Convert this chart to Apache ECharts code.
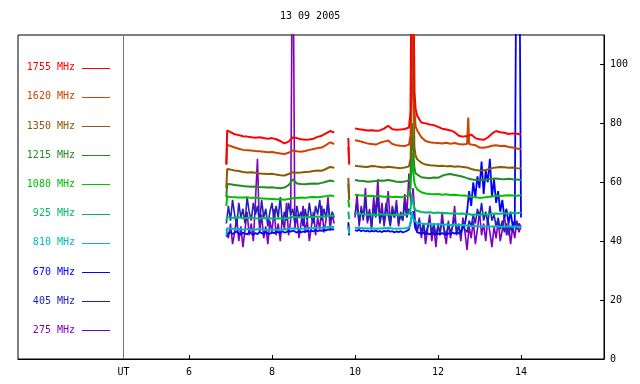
<!DOCTYPE html>
<html><head><meta charset="utf-8">
<script src="https://cdn.jsdelivr.net/npm/echarts@6/dist/echarts.min.js"></script>
<style>html,body{margin:0;padding:0;background:#fff}#c{width:640px;height:384px}</style>
</head><body><div id="c"></div>
<script>
const chartTitle = '13 09 2005';
const xTickValues = [6, 8, 10, 12, 14];
const yTickValues = [0, 20, 40, 60, 80, 100];
const utLineAt = 4.42;
const freqLabels = ['1755 MHz','1620 MHz','1350 MHz','1215 MHz','1080 MHz','925 MHz','810 MHz','670 MHz','405 MHz','275 MHz'];

// coarse time grids (hours UT)
const timesA = [6.90,6.92,7.0,7.1,7.2,7.3,7.4,7.5,7.6,7.7,7.8,7.9,8.0,8.1,8.2,8.3,8.4,8.5,8.6,8.7,8.8,8.9,9.0,9.1,9.2,9.3,9.4,9.5];
const timesMini = [9.84, 9.86];
const timesB = [10.0,10.1,10.2,10.3,10.4,10.5,10.6,10.7,10.8,10.9,11.0,11.1,11.2,11.3,
  11.34,11.37,11.40,11.43,11.46,
  11.5,11.6,11.7,11.8,11.9,12.0,12.1,12.2,12.3,12.4,12.5,12.6,12.7,
  12.73,12.75,
  12.8,12.9,13.0,13.1,13.2,13.3,13.4,13.5,13.6,13.7,13.8,13.9,14.0];
// fine time grids for the noisy channels
const timesFineA = [6.90,6.95,7.00,7.05,7.10,7.15,7.20,7.25,7.30,7.35,
  7.40,7.45,7.50,7.55,7.60,7.65,7.70,7.75,7.80,7.85,
  7.90,7.95,8.00,8.05,8.10,8.15,8.20,8.25,8.30,8.35,
  8.40,8.45,8.50,8.55,8.60,8.65,8.70,8.75,8.80,8.85,
  8.90,8.95,9.00,9.05,9.10,9.15,9.20,9.25,9.30,9.35,
  9.40,9.45,9.50];
const timesFineB = [10.00,10.05,10.10,10.15,10.20,10.25,10.30,10.35,10.40,10.45,
  10.50,10.55,10.60,10.65,10.70,10.75,10.80,10.85,10.90,10.95,
  11.00,11.05,11.10,11.15,11.20,11.25,11.30,11.35,11.40,11.45,
  11.50,11.55,11.60,11.65,11.70,11.75,11.80,11.85,11.90,11.95,
  12.00,12.05,12.10,12.15,12.20,12.25,12.30,12.35,12.40,12.45,
  12.50,12.55,12.60,12.65,12.70,12.75,12.80,12.85,12.90,12.95,
  13.00,13.05,13.10,13.15,13.20,13.25,13.30,13.35,13.40,13.45,
  13.50,13.55,13.60,13.65,13.70,13.75,13.80,13.85,13.90,13.95,
  14.00];

// 1755 MHz
const f1755A = [66,77.6,77.0,76.3,76.0,75.6,75.5,75.3,75.1,75.3,75.0,74.8,75.0,74.6,74.0,73.2,73.8,75.2,75.0,74.6,74.4,74.5,74.8,75.4,75.8,76.6,77.4,76.9];
const f1755M = [75, 66];
const f1755B = [78.3,78.0,77.8,77.6,77.7,77.5,77.6,78.2,79.2,78.0,77.8,77.9,78.1,78.6,
  84,160,150,91,85,
  82.5,80.3,80.0,79.6,79.4,78.8,78.2,77.9,77.6,77.0,75.8,75.5,75.7,
  75.8,75.9,
  76.2,75.0,74.6,74.4,75.2,76.5,77.4,77.0,76.8,76.4,76.6,76.5,76.2];
// 1620 MHz
const f1620A = [66,72.8,72.3,71.8,71.4,71.0,70.9,70.8,70.6,70.5,70.4,70.2,70.3,70.0,69.8,69.6,70.0,70.8,70.5,70.4,70.6,71.0,71.3,71.6,71.8,72.6,73.6,73.0];
const f1620M = [72, 66.5];
const f1620B = [74.3,74.0,73.6,73.2,73.0,72.8,73.4,73.8,74.2,73.0,72.6,72.4,72.3,72.8,
  76,150,160,85,79,
  77.6,75.3,74.0,73.6,73.4,73.3,73.2,73.4,73.1,73.3,73.0,72.8,73.0,
  82,73.0,
  72.8,72.6,71.8,71.7,72.0,72.4,72.6,72.3,72.4,72.0,71.8,71.5,71.2];
// 1350 MHz
const f1350A = [58,64.5,64.3,64.0,63.8,63.5,63.3,63.4,63.2,63.0,62.9,62.8,62.9,62.6,62.4,62.3,62.8,63.4,63.2,63.3,63.5,63.6,63.8,64.0,63.9,64.5,65.2,64.9];
const f1350M = [61.5, 54];
const f1350B = [65.6,65.4,65.3,65.2,65.5,65.4,65.2,65.0,65.3,65.1,64.9,64.8,65.0,65.4,
  68,90,115,72,69,
  67.8,66.6,66.0,65.8,65.7,65.5,65.6,65.4,65.5,65.3,65.4,65.2,65.0,
  64.9,64.8,
  64.5,64.2,64.0,64.1,64.3,64.8,65.0,65.2,65.1,64.9,65.0,64.8,64.7];
// 1215 MHz
const f1215A = [55,59.4,59.3,59.1,58.9,58.7,58.6,58.5,58.6,58.4,58.3,58.2,58.3,58.1,58.0,58.2,59.0,61.0,59.6,59.4,59.3,59.5,59.6,59.5,59.8,60.2,60.6,60.3];
const f1215M = [59.5, 54.5];
const f1215B = [60.8,60.5,60.4,60.2,60.3,60.4,60.6,60.5,60.8,60.5,60.2,60.1,60.3,60.6,
  63,80,72,65,63,
  62.4,61.7,61.5,61.4,61.6,61.5,62.2,62.6,62.8,62.5,62.2,61.9,61.4,
  61.3,61.2,
  61.0,60.8,60.6,60.8,61.0,61.2,61.3,61.1,61.0,61.2,61.0,60.9,60.8];
// 1080 MHz
const f1080A = [52,55.2,55.0,54.9,54.8,54.8,54.9,54.7,54.8,54.6,54.5,54.4,54.3,54.2,54.2,54.1,54.3,54.6,54.7,54.8,54.7,54.9,55.0,54.9,55.1,55.3,55.5,55.3];
const f1080M = [54, 51.5];
const f1080B = [55.8,55.6,55.5,55.3,55.4,55.2,55.3,55.1,55.2,55.0,55.1,54.9,55.2,55.6,
  58,70,64,60,58.5,
  57.6,56.6,56.2,56.0,55.9,56.0,55.8,55.9,55.7,55.8,55.6,55.5,55.4,
  55.3,55.2,
  55.0,54.9,54.7,54.8,55.0,55.2,55.4,55.3,55.5,55.6,55.5,55.4,55.6];
// 925 MHz
const f925A = [47,48.2,48.0,47.9,48.1,47.8,47.9,48.0,47.8,47.7,47.9,47.8,47.7,47.6,47.8,47.7,47.9,48.2,48.1,48.0,48.2,48.3,48.2,48.4,48.3,48.5,48.7,48.6];
const f925M = [50, 47.5];
const f925B = [49.5,49.3,49.2,49.0,49.1,48.9,49.2,49.0,49.1,48.9,49.0,48.8,49.0,49.3,
  51,56,53,51.5,50.5,
  50.2,49.9,49.7,49.8,49.6,49.7,49.5,49.6,49.4,49.5,49.3,49.4,49.2,
  49.3,49.2,
  49.0,49.1,48.9,49.2,49.0,49.3,49.4,49.3,49.5,49.4,49.6,49.5,49.7];
// 810 MHz
const f810A = [42,44.4,44.3,44.1,44.2,44.0,44.1,43.9,44.0,44.1,43.9,43.8,44.0,43.9,43.8,44.0,44.2,44.4,44.3,44.2,44.3,44.5,44.4,44.6,44.5,44.7,44.9,44.8];
const f810M = [45, 42.5];
const f810B = [44.6,44.5,44.4,44.3,44.4,44.2,44.3,44.4,44.5,44.3,44.2,44.3,44.4,44.6,
  46,50,48,47,46.5,
  46.2,46.0,45.8,45.9,45.7,45.8,45.6,45.7,45.5,45.6,45.4,45.5,45.3,
  45.2,45.3,
  45.1,45.2,45.0,45.1,44.9,45.0,45.1,44.9,45.0,45.1,44.9,45.0,44.8];
// 670 MHz (fine grid)
const f670A = [41.5,42.6,43.1,42.4,42.9,43.3,42.5,42.2,42.9,42.6,
  42.3,43.0,42.7,42.1,42.8,42.4,43.1,42.8,42.4,43.2,
  42.6,42.5,42.9,42.7,43.3,43.0,42.8,43.4,42.9,43.1,
  43.5,43.2,43.6,43.3,42.9,43.4,43.0,43.3,43.1,43.5,
  43.2,43.6,43.3,43.8,43.4,43.7,43.5,43.9,43.6,44.0,
  43.8,44.1,43.9];
const f670M = [46, 42];
const f670B = [43.8,43.5,43.9,43.4,43.7,43.3,43.6,43.2,43.5,43.3,
  43.6,43.2,43.4,43.1,43.5,43.3,43.6,43.2,43.4,43.0,
  43.3,43.1,43.4,43.0,43.2,43.5,44.0,47,50,44.5,
  43.0,42.8,42.5,42.9,42.4,42.7,42.3,42.8,42.5,42.2,
  42.6,42.3,42.8,42.4,42.1,42.7,42.4,42.9,42.5,43.0,
  42.6,43.2,44.5,46,50,57,52,60,55,62,
  58,67,56,64,60,68,55,61,53,57,
  50,54,48,51,46,50,45,47,170,170,
  48];
// 405 MHz (fine grid)
const f405A = [46,52,47,54,49,45,53,48,51,46,
  55,50,47,53,49,52,46,54,48,51,
  45,50,53,47,52,48,55,46,50,47,
  53,49,51,46,52,48,50,45,51,47,
  53,48,46,52,49,54,47,51,48,53,
  47,50,48];
const f405M = [46.5, 42];
const f405B = [49,53,46,51,48,54,47,50,45,52,
  48,55,46,50,47,53,49,45,51,48,
  52,46,49,47,53,48,51,49,50,46,
  44,47,43,46,42,45,47,43,46,42,
  45,43,47,44,42,46,43,45,48,43,
  45,42,46,44,43,47,45,49,46,51,
  48,53,47,50,46,52,47,49,45,48,
  44,47,43,46,42,45,43,47,44,46,
  45];
// 275 MHz (fine grid)
const f275A = [44,41,46,39,43,48,40,45,38,44,
  50,42,46,40,53,68,43,49,41,45,
  39,47,43,51,42,46,40,48,44,53,
  42,47,160,44,49,41,46,52,43,47,
  40,45,50,42,48,44,52,43,47,55,
  44,49,46];
const f275M = [45, 43];
const f275B = [48,56,45,52,47,58,46,51,44,55,
  49,61,47,53,45,50,57,46,52,48,
  54,45,50,47,56,49,63,52,58,47,
  43,48,41,46,39,44,49,40,45,38,
  46,42,50,43,39,47,41,45,52,42,
  46,40,48,43,37,45,41,47,39,44,
  50,42,46,40,48,43,38,45,41,47,
  40,44,49,42,46,39,45,41,47,43,
  45];

const colors = {
  '1755 MHz':'#ff0000','1620 MHz':'#cc4400','1350 MHz':'#8c5a00','1215 MHz':'#228b22','1080 MHz':'#00c000',
  '925 MHz':'#00bb66','810 MHz':'#00bbbb','670 MHz':'#0000ff','405 MHz':'#2222bb','275 MHz':'#7f00bf'
};

function pairs(ts, vs, name) {
  if (ts.length !== vs.length) throw new Error('length mismatch ' + name + ' ' + ts.length + ' vs ' + vs.length);
  return ts.map((t, i) => [t, vs[i]]);
}
function joinSegs(segs) {
  const out = [];
  segs.forEach((s, i) => {
    if (i > 0) out.push([(out[out.length - 1][0] + s[0][0]) / 2, null]);
    s.forEach(p => out.push(p));
  });
  return out;
}
const coarse = (n, a, m, b) => joinSegs([pairs(timesA, a, n+'A'), pairs(timesMini, m, n+'M'), pairs(timesB, b, n+'B')]);
const fine = (n, a, m, b) => joinSegs([pairs(timesFineA, a, n+'A'), pairs(timesMini, m, n+'M'), pairs(timesFineB, b, n+'B')]);

const seriesData = [
  ['275 MHz', fine('275', f275A, f275M, f275B), 1.6],
  ['405 MHz', fine('405', f405A, f405M, f405B), 1.6],
  ['670 MHz', fine('670', f670A, f670M, f670B), 1.8],
  ['810 MHz', coarse('810', f810A, f810M, f810B), 2],
  ['925 MHz', coarse('925', f925A, f925M, f925B), 2],
  ['1080 MHz', coarse('1080', f1080A, f1080M, f1080B), 2],
  ['1215 MHz', coarse('1215', f1215A, f1215M, f1215B), 2],
  ['1350 MHz', coarse('1350', f1350A, f1350M, f1350B), 2],
  ['1620 MHz', coarse('1620', f1620A, f1620M, f1620B), 2],
  ['1755 MHz', coarse('1755', f1755A, f1755M, f1755B), 2]
];

const FONT = '"DejaVu Sans Mono", monospace';
const series = seriesData.map(([name, data, w], i) => ({
  name, type: 'line', data, showSymbol: false, symbol: 'none', connectNulls: false,
  lineStyle: { color: colors[name], width: w }, itemStyle: { color: colors[name] },
  z: 2 + i, silent: true, clip: true
}));
series[0].markLine = {
  silent: true, symbol: 'none', animation: false,
  lineStyle: { color: '#777', width: 1, type: 'solid' },
  label: { show: false },
  data: [{ xAxis: utLineAt }]
};

// legend drawn as text + line, right-aligned, to the left of UT line
const legendGraphics = [];
freqLabels.forEach((lab, i) => {
  const y = 67.7 + i * 29.18;
  legendGraphics.push({ type: 'text', x: 75, y: y, style: { text: lab, fill: colors[lab], font: '10px ' + FONT, textAlign: 'right', textVerticalAlign: 'middle' }, z: 50 });
  legendGraphics.push({ type: 'line', x: 0, y: 0, shape: { x1: 82, y1: Math.round(y) + 0.5, x2: 110, y2: Math.round(y) + 0.5 }, style: { stroke: colors[lab], lineWidth: 1 }, z: 50 });
});

const chart = echarts.init(document.getElementById('c'), null, { renderer: 'canvas' });
chart.setOption({
  animation: false,
  backgroundColor: '#fff',
  title: { text: chartTitle, left: 280, top: 11, padding: 0,
    textStyle: { fontFamily: FONT, fontSize: 10, fontWeight: 'normal', color: '#000' } },
  grid: { left: 18, right: 36, top: 35, bottom: 25, show: true, borderColor: '#000', borderWidth: 1, containLabel: false },
  xAxis: {
    type: 'value', min: 1.88, max: 16,
    axisLine: { show: true, lineStyle: { color: '#000', width: 1 } },
    splitLine: { show: false },
    axisTick: { show: true, inside: true, length: 4, lineStyle: { color: '#000' }, customValues: xTickValues },
    axisLabel: { show: true, margin: 8, color: '#000', fontFamily: FONT, fontSize: 10,
      customValues: [utLineAt].concat(xTickValues),
      formatter: v => (Math.abs(v - utLineAt) < 1e-6 ? 'UT' : String(v)) }
  },
  yAxis: {
    type: 'value', position: 'right', min: 0, max: 110,
    axisLine: { show: true, lineStyle: { color: '#000', width: 1 } },
    splitLine: { show: false },
    axisTick: { show: true, inside: true, length: 4, lineStyle: { color: '#000' }, customValues: yTickValues },
    axisLabel: { show: true, margin: 6, color: '#000', fontFamily: FONT, fontSize: 10, customValues: yTickValues }
  },
  graphic: legendGraphics,
  series
});
</script></body></html>
